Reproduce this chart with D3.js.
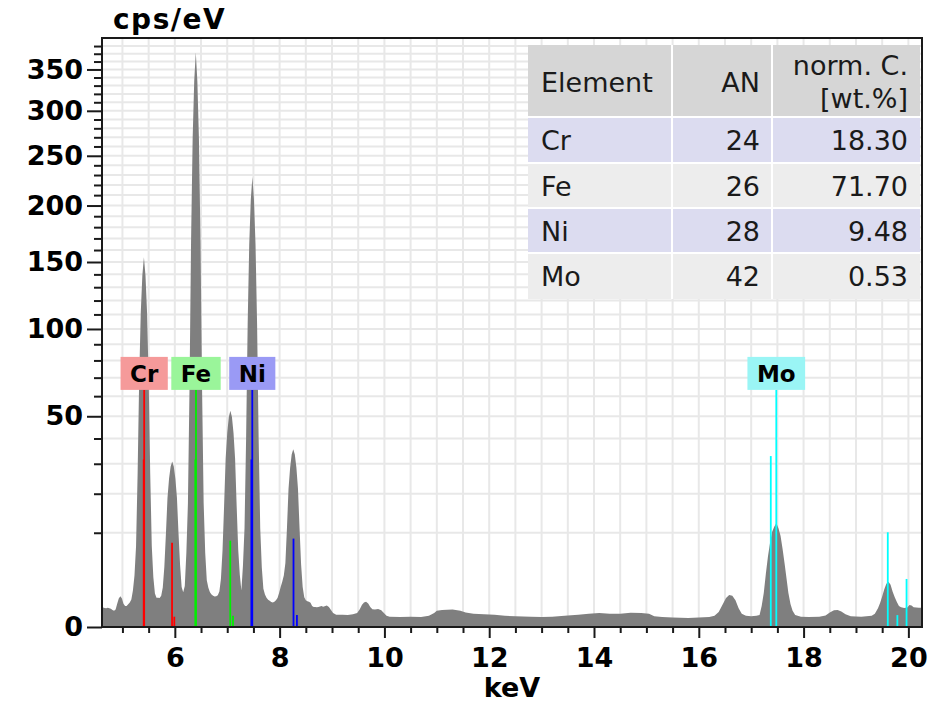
<!DOCTYPE html>
<html>
<head>
<meta charset="utf-8">
<script src="https://cdn.jsdelivr.net/npm/d3@7"></script>
<style>
  html, body { margin: 0; padding: 0; background: #fff; }
  svg { display: block; font-family: "DejaVu Sans", Verdana, sans-serif; }
</style>
</head>
<body>
<svg id="chart" width="943" height="703"></svg>
<script>
// ---- EDS spectrum: [energy keV, counts per eV] ----
const spectrum = [
  [4.60,0.42],[4.63,0.43],[4.66,0.41],[4.69,0.40],[4.72,0.42],[4.75,0.40],[4.78,0.38],[4.81,0.33],
  [4.84,0.30],[4.87,0.34],[4.90,0.61],[4.93,0.91],[4.96,1.06],[4.99,0.91],[5.02,0.61],[5.05,0.50],
  [5.08,0.50],[5.11,0.58],[5.14,0.68],[5.17,0.85],[5.20,1.5],[5.23,3.0],[5.26,7.4],[5.29,26.7],
  [5.32,69.8],[5.35,111.4],[5.38,139.1],[5.41,154.0],[5.44,139.1],[5.47,111.4],[5.50,69.8],[5.53,26.7],
  [5.56,7.4],[5.59,2.8],[5.62,1.27],[5.65,0.97],[5.68,0.96],[5.71,0.94],[5.74,1.1],[5.77,1.76],
  [5.80,4.1],[5.83,9.8],[5.86,18.8],[5.89,24.8],[5.92,29.0],[5.95,30.8],[5.98,29.0],[6.01,24.8],
  [6.04,18.9],[6.07,9.95],[6.10,4.36],[6.13,1.8],[6.16,1.35],[6.19,1.9],[6.22,6.17],[6.25,17.3],
  [6.28,63.7],[6.31,167.9],[6.34,268.3],[6.37,335.3],[6.40,372.0],[6.43,335.3],[6.46,268.3],[6.49,167.9],
  [6.52,63.8],[6.55,17.3],[6.58,6.18],[6.61,2.47],[6.64,1.74],[6.67,1.36],[6.70,1.19],[6.73,1.1],
  [6.76,1.04],[6.79,1.06],[6.82,1.13],[6.85,1.41],[6.88,2.63],[6.91,6.53],[6.94,16.4],[6.97,32.0],
  [7.00,42.4],[7.03,49.6],[7.06,52.7],[7.09,49.7],[7.12,42.4],[7.15,32.0],[7.18,16.5],[7.21,6.74],
  [7.24,3.06],[7.27,1.5],[7.30,4.24],[7.33,11.0],[7.36,39.5],[7.39,103.2],[7.42,164.8],[7.45,205.8],
  [7.48,228.0],[7.51,205.8],[7.54,164.8],[7.57,103.2],[7.60,39.4],[7.63,10.9],[7.66,3.97],[7.69,1.65],
  [7.72,1.19],[7.75,0.96],[7.78,0.84],[7.81,0.77],[7.84,0.70],[7.87,0.68],[7.90,0.72],[7.93,0.80],
  [7.96,0.95],[7.99,1.3],[8.02,1.8],[8.05,2.3],[8.08,3.0],[8.11,4.6],[8.14,11.0],[8.17,21.5],
  [8.20,28.5],[8.23,33.5],[8.26,35.6],[8.29,33.5],[8.32,28.6],[8.35,21.6],[8.38,11.1],[8.41,4.4],
  [8.44,1.8],[8.47,1.0],[8.50,0.80],[8.53,0.75],[8.56,0.72],[8.59,0.66],[8.62,0.50],[8.65,0.45],
  [8.68,0.45],[8.71,0.44],[8.74,0.45],[8.77,0.47],[8.80,0.50],
  [8.83,0.46],[8.86,0.48],[8.90,0.52],[8.94,0.45],[8.98,0.33],[9.02,0.22],[9.08,0.17],[9.20,0.17],
  [9.30,0.16],[9.40,0.18],[9.48,0.22],[9.53,0.35],[9.57,0.55],[9.61,0.68],[9.65,0.72],[9.69,0.62],
  [9.73,0.45],[9.77,0.35],[9.82,0.34],[9.88,0.36],[9.94,0.32],[9.99,0.22],[10.04,0.14],[10.10,0.12],
  [10.30,0.11],[10.50,0.12],[10.70,0.11],[10.85,0.14],[10.95,0.22],[11.00,0.30],[11.10,0.33],[11.30,0.34],
  [11.45,0.30],[11.55,0.24],[11.70,0.20],[11.90,0.18],[12.10,0.17],[12.30,0.14],[12.50,0.13],[12.80,0.12],
  [13.00,0.11],[13.20,0.12],[13.50,0.15],[13.70,0.17],[13.90,0.20],[14.10,0.22],[14.30,0.20],[14.50,0.20],
  [14.70,0.23],[14.90,0.22],[15.05,0.20],[15.15,0.13],[15.30,0.11],[15.50,0.10],[15.80,0.09],[16.00,0.10],
  [16.20,0.11],[16.30,0.14],[16.38,0.25],[16.45,0.55],[16.52,0.95],[16.58,1.15],[16.64,1.10],[16.70,0.80],
  [16.76,0.40],[16.82,0.20],[16.90,0.14],[17.00,0.13],[17.10,0.14],[17.16,0.16],[17.20,0.50],[17.24,1.3],
  [17.28,3.2],[17.32,5.6],[17.36,8.0],[17.40,10.2],[17.44,11.3],[17.48,12.2],[17.52,11.0],[17.56,9.4],
  [17.60,6.8],[17.64,4.4],[17.68,2.4],[17.71,1.3],[17.75,0.60],[17.79,0.30],[17.84,0.16],[17.95,0.12],
  [18.10,0.11],[18.30,0.12],[18.42,0.15],[18.50,0.24],[18.58,0.32],[18.65,0.33],[18.72,0.27],[18.80,0.18],
  [18.90,0.13],[19.10,0.12],[19.30,0.14],[19.36,0.20],[19.42,0.40],[19.46,0.65],[19.50,1.05],[19.54,1.6],
  [19.58,2.1],[19.62,2.3],[19.66,2.0],[19.70,1.4],[19.74,1.0],[19.78,0.70],[19.82,0.50],[19.86,0.44],
  [19.92,0.41],[19.98,0.43],[20.02,0.55],[20.06,0.52],[20.10,0.44],[20.20,0.42],[20.26,0.42]
];

// ---- characteristic X-ray lines: [energy keV, marker height] ----
const crLines = [[5.415,63.3],[5.406,31.6],[5.947,8.0],[5.99,0.12]];
const feLines = [[6.404,63.3],[6.391,31.6],[7.058,8.4],[7.11,0.14]];
const niLines = [[7.478,63.3],[7.461,31.6],[8.265,8.8],[8.33,0.16]];
const moLines = [[17.479,63.3],[17.374,32.9],[19.607,10.1],[19.79,0.16],[19.965,2.6]];

// ---- quantification table ----
const elementNames  = ["Cr", "Fe", "Ni", "Mo"];
const atomicNumbers = [24, 26, 28, 42];
const normConc      = ["18.30", "71.70", "9.48", "0.53"];
const tableHeaders  = ["Element", "AN", "norm. C.", "[wt.%]"];

// ---- axes ----
const yTickValues = [0, 50, 100, 150, 200, 250, 300, 350];
const xTickValues = [6, 8, 10, 12, 14, 16, 18, 20];
const xDomain = [4.61, 20.26];
const yDomainMax = 390.6;

// ---- styles ----
const lineSets = [crLines, feLines, niLines, moLines];
const lineColors = ["#ff0000", "#00f000", "#0000ff", "#00ffff"];
const boxColors  = ["#f59a9a", "#9af59a", "#9a9af5", "#9af5f5"];
const rowColors  = ["#dcdcf0", "#ededed", "#dcdcf0", "#ededed"];

const svg = d3.select("#chart");
const plot = { left: 102, right: 922, top: 38, bottom: 627 };

const x = d3.scaleLinear().domain(xDomain).range([plot.left, plot.right]);
const y = d3.scaleSqrt().domain([0, yDomainMax]).range([plot.bottom, plot.top]);

// clip for plot area
svg.append("defs").append("clipPath").attr("id", "plotClip")
  .append("rect")
  .attr("x", plot.left).attr("y", plot.top)
  .attr("width", plot.right - plot.left).attr("height", plot.bottom - plot.top);

// ---- grid ----
const grid = svg.append("g").attr("stroke", "#e8e8e8").attr("stroke-width", 2);
const xGrid = d3.range(10, 41).map(d => d / 2).filter(d => d > xDomain[0] && d < xDomain[1]);
grid.selectAll("line.v").data(xGrid).join("line")
  .attr("x1", d => x(d)).attr("x2", d => x(d))
  .attr("y1", plot.top).attr("y2", plot.bottom);
const yGrid = d3.range(10, 390, 10);
grid.selectAll("line.h").data(yGrid).join("line")
  .attr("x1", plot.left).attr("x2", plot.right)
  .attr("y1", d => y(d)).attr("y2", d => y(d));

// ---- spectrum ----
const area = d3.area()
  .x(d => x(d[0]))
  .y0(y(0))
  .y1(d => y(d[1]));
svg.append("path")
  .datum(spectrum)
  .attr("clip-path", "url(#plotClip)")
  .attr("fill", "#7f7f7f")
  .attr("d", area);

// ---- element line markers ----
const markers = svg.append("g").attr("clip-path", "url(#plotClip)");
lineSets.forEach((set, i) => {
  markers.selectAll(null).data(set).join("line")
    .attr("x1", d => x(d[0])).attr("x2", d => x(d[0]))
    .attr("y1", y(0)).attr("y2", d => y(d[1]))
    .attr("stroke", lineColors[i])
    .attr("stroke-width", 1.8);
});

// ---- element labels sitting on the main line ----
const labels = svg.append("g");
lineSets.forEach((set, i) => {
  const main = set[0];
  const cx = x(main[0]);
  const top = y(main[1]);
  const g = labels.append("g");
  const t = g.append("text")
    .attr("x", cx).attr("y", top - 8)
    .attr("text-anchor", "middle")
    .attr("font-size", 23).attr("font-weight", "bold")
    .attr("fill", "#000")
    .text(elementNames[i]);
  const w = t.node().getComputedTextLength() + 19;
  g.insert("rect", "text")
    .attr("x", cx - w / 2).attr("y", top - 33)
    .attr("width", w).attr("height", 33)
    .attr("fill", boxColors[i]);
});

// ---- table ----
const table = svg.append("g");
const colEdges = [528, 672, 772, 920];
const rowEdges = [45, 117, 163, 208, 253, 299];
table.append("rect")
  .attr("x", colEdges[0]).attr("y", rowEdges[0])
  .attr("width", colEdges[3] - colEdges[0]).attr("height", rowEdges[1] - rowEdges[0])
  .attr("fill", "#d6d6d6");
elementNames.forEach((name, i) => {
  table.append("rect")
    .attr("x", colEdges[0]).attr("y", rowEdges[i + 1])
    .attr("width", colEdges[3] - colEdges[0]).attr("height", rowEdges[i + 2] - rowEdges[i + 1])
    .attr("fill", rowColors[i]);
});
// white cell separators
colEdges.slice(1, 3).forEach(cx => {
  table.append("line").attr("x1", cx).attr("x2", cx)
    .attr("y1", rowEdges[0]).attr("y2", rowEdges[5])
    .attr("stroke", "#fff").attr("stroke-width", 2);
});
rowEdges.slice(1, 5).forEach(ry => {
  table.append("line").attr("x1", colEdges[0]).attr("x2", colEdges[3])
    .attr("y1", ry).attr("y2", ry)
    .attr("stroke", "#fff").attr("stroke-width", 2);
});

const tFont = 27;
const txt = (xp, yp, s, anchor) => table.append("text")
  .attr("x", xp).attr("y", yp).attr("text-anchor", anchor)
  .attr("font-size", tFont).attr("fill", "#1a1a1a").text(s);

txt(541, 92, tableHeaders[0], "start");
txt(760, 92, tableHeaders[1], "end");
txt(908, 75, tableHeaders[2], "end");
txt(908, 108, tableHeaders[3], "end");
elementNames.forEach((name, i) => {
  const base = (rowEdges[i + 1] + rowEdges[i + 2]) / 2 + 10;
  txt(541, base, name, "start");
  txt(760, base, atomicNumbers[i], "end");
  txt(908, base, normConc[i], "end");
});

// ---- axes ----
const axisStyle = g => {
  g.selectAll(".domain").remove();
  g.selectAll(".tick line").attr("stroke", "#1a1a1a").attr("stroke-width", 2);
  g.selectAll(".tick text").attr("fill", "#000")
    .attr("font-size", 27).attr("font-weight", "bold")
    .attr("font-family", "\"DejaVu Sans\", Verdana, sans-serif");
};

// minor ticks
const xMinor = d3.range(10, 41).map(d => d / 2).filter(d => d % 2 !== 0 && d > xDomain[0] && d < xDomain[1]);
svg.append("g").attr("transform", `translate(0,${plot.bottom})`)
  .call(d3.axisBottom(x).tickValues(xMinor).tickSize(6).tickFormat(""))
  .call(axisStyle);
const yMinor = d3.range(10, 390, 10).filter(d => d % 50 !== 0);
svg.append("g").attr("transform", `translate(${plot.left},0)`)
  .call(d3.axisLeft(y).tickValues(yMinor).tickSize(8).tickFormat(""))
  .call(axisStyle);

// major ticks with labels
svg.append("g").attr("transform", `translate(0,${plot.bottom})`)
  .call(d3.axisBottom(x).tickValues(xTickValues).tickSize(11).tickPadding(10).tickFormat(d3.format("d")))
  .call(axisStyle);
svg.append("g").attr("transform", `translate(${plot.left},0)`)
  .call(d3.axisLeft(y).tickValues(yTickValues).tickSize(15).tickPadding(4).tickFormat(d3.format("d")))
  .call(axisStyle);

// frame
svg.append("rect")
  .attr("x", plot.left).attr("y", plot.top)
  .attr("width", plot.right - plot.left).attr("height", plot.bottom - plot.top)
  .attr("fill", "none").attr("stroke", "#1a1a1a").attr("stroke-width", 2);

// axis titles
svg.append("text")
  .attr("x", 113).attr("y", 29)
  .attr("font-size", 28).attr("font-weight", "bold").attr("fill", "#000")
  .attr("letter-spacing", 1.5)
  .text("cps/eV");
svg.append("text")
  .attr("x", (plot.left + plot.right) / 2).attr("y", 697)
  .attr("text-anchor", "middle")
  .attr("font-size", 27).attr("font-weight", "bold").attr("fill", "#000")
  .text("keV");
</script>
</body>
</html>
